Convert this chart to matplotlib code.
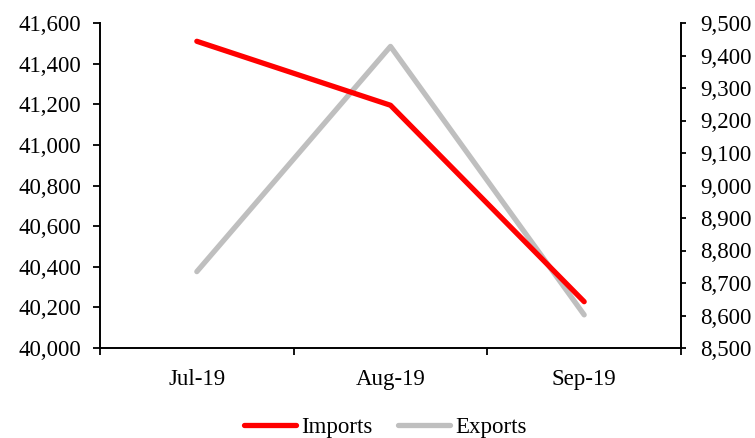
import matplotlib

matplotlib.use("Agg")
import matplotlib.pyplot as plt
from matplotlib.ticker import FuncFormatter, FixedLocator

months = ["Jul-19", "Aug-19", "Sep-19"]
imports = [41510, 41195, 40228]
exports = [8735, 9428, 8602]

plt.rcParams["font.family"] = ["Liberation Serif", "DejaVu Serif"]
plt.rcParams["font.size"] = 16.5

W, H = 755, 438
fig = plt.figure(figsize=(W / 100, H / 100), dpi=100)
ax = fig.add_axes([100 / W, 1 - 348 / H, 581 / W, 325 / H])
ax2 = ax.twinx()

x = list(range(len(months)))
l1, = ax.plot(x, imports, color="#ff0000", lw=3.8, solid_capstyle="round", label="Imports", zorder=3)
l2, = ax2.plot(x, exports, color="#bfbfbf", lw=3.8, solid_capstyle="round", label="Exports", zorder=2)
ax.set_zorder(ax2.get_zorder() + 1)
ax.patch.set_visible(False)

ax.set_xlim(-0.5, 2.5)
ax.set_ylim(40000, 41600)
ax.set_yticks(range(40000, 41601, 200))
ax2.set_ylim(8500, 9500)
ax2.set_yticks(range(8500, 9501, 100))

fmt = FuncFormatter(lambda v, p: f"{int(v):,}")
ax.yaxis.set_major_formatter(fmt)
ax2.yaxis.set_major_formatter(fmt)

# category boundaries as ticks, labels centred
ax.xaxis.set_major_locator(FixedLocator([-0.5, 0.5, 1.5, 2.5]))
ax.xaxis.set_minor_locator(FixedLocator(x))
ax.set_xticklabels([])
ax.set_xticklabels(months, minor=True)
ax.tick_params(axis="x", which="major", length=5, width=1.3, direction="out")
ax.tick_params(axis="x", which="minor", length=0, pad=15)
ax.tick_params(axis="y", length=5, width=1.3, pad=8.5, direction="out")
ax2.tick_params(axis="y", length=3.6, width=1.3, pad=10, direction="out")

for a in (ax, ax2):
    a.spines["top"].set_visible(False)
    for s in ("left", "right", "bottom"):
        a.spines[s].set_linewidth(1.4)
ax.spines["right"].set_visible(False)
ax2.spines["left"].set_visible(False)
ax2.spines["bottom"].set_visible(False)

fig.legend(handles=[l1, l2], loc="center", bbox_to_anchor=(0.51, 1 - 427 / H),
           ncol=2, frameon=False, handlelength=2.3, handletextpad=0.2,
           columnspacing=1.1, borderpad=0)

fig.savefig("out.png", dpi=100)
